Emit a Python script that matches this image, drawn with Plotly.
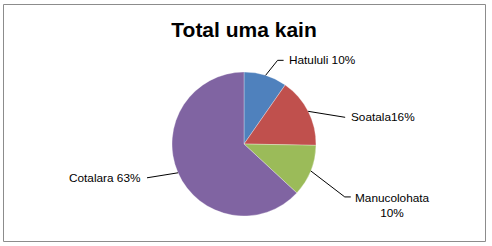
import math
import plotly.graph_objects as go

# Data
categories = ["Hatululi", "Soatala", "Manucolohata", "Cotalara"]
values = [9.7, 15.6, 11.6, 63.1]
label_texts = ["Hatululi 10%", "Soatala16%", "Manucolohata<br>10%", "Cotalara 63%"]
colors = ["#4F81BD", "#C0504D", "#9BBB59", "#8064A2"]

W, H = 492, 246
CX, CY, R = 244, 144, 72

# leader-line styling: (elbow dx, dy from slice edge, tail length, text gap, xanchor)
leader_style = [
    (12, -15, 6, 3, "left"),
    (37, 6, 0, 4, "left"),
    (34, 26, 6, 2, "left"),
    (-31, 5, 0, 4, "right"),
]

def px(x):
    return x / W

def py(y):
    return 1 - y / H

fig = go.Figure()
fig.add_trace(go.Pie(
    labels=categories, values=values, sort=False, direction="clockwise",
    rotation=0, textinfo="none", hoverinfo="label+percent",
    marker=dict(colors=colors, line=dict(color="rgba(255,255,255,0.6)", width=0.5)),
    domain=dict(x=[px(CX - R), px(CX + R)], y=[py(CY + R), py(CY - R)]),
    showlegend=False,
))

shapes = []
annotations = []
total = sum(values)
cum = 0
for i, v in enumerate(values):
    mid = (cum + v / 2) / total * 2 * math.pi
    cum += v
    ex = CX + R * math.sin(mid)
    ey = CY - R * math.cos(mid)
    dx, dy, tail, gap, anchor = leader_style[i]
    bx, by = ex + dx, ey + dy
    sgn = 1 if anchor == "left" else -1
    tx = bx + sgn * tail
    line = dict(type="line", xref="paper", yref="paper", line=dict(color="black", width=1))
    shapes.append(dict(line, x0=px(ex), y0=py(ey), x1=px(bx), y1=py(by)))
    if tail:
        shapes.append(dict(line, x0=px(bx), y0=py(by), x1=px(tx), y1=py(by)))
    yshift = 0
    yanchor = "middle"
    align = "left"
    if "<br>" in label_texts[i]:
        yanchor = "top"
        yshift = 8
        align = "center"
    annotations.append(dict(
        text=label_texts[i], x=px(tx + sgn * gap), y=py(by), xref="paper", yref="paper",
        xanchor=anchor, yanchor=yanchor, yshift=yshift, align=align, showarrow=False,
        font=dict(family="Liberation Sans", size=11.8, color="black"),
    ))

# outer frame
shapes.append(dict(type="rect", xref="paper", yref="paper", x0=px(3.5), y0=py(241.5),
                   x1=px(485.5), y1=py(4.5), line=dict(color="#8c8c8c", width=1)))

fig.update_layout(
    width=W, height=H, margin=dict(l=0, r=0, t=0, b=0),
    paper_bgcolor="white", plot_bgcolor="white",
    title=dict(text="<b>Total uma kain</b>", x=0.496, xanchor="center", y=py(30), yanchor="middle",
               font=dict(family="Liberation Sans", size=21, color="black")),
    shapes=shapes, annotations=annotations,
)

fig.write_html("out.html")
